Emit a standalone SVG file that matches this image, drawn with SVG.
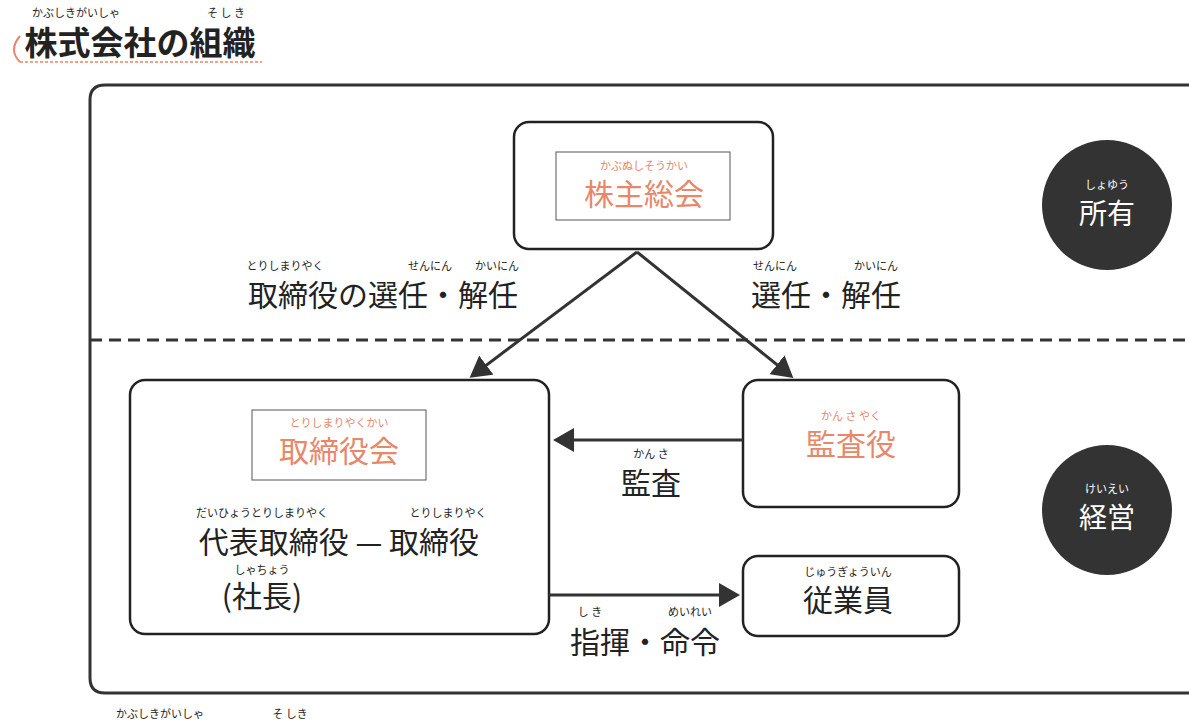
<svg xmlns="http://www.w3.org/2000/svg" width="1189" height="726" viewBox="0 0 1189 726">
<style>
text{font-family:"Noto Sans CJK JP","Noto Sans",sans-serif;fill:#222;text-anchor:middle}
.rb{font-size:11px}
.lb{font-size:30px}
.or{fill:#e8876a}
.bx{fill:#fff;stroke:#222;stroke-width:2.5}
.in{fill:none;stroke:#555;stroke-width:1}
.ln{stroke:#333;stroke-width:3;fill:none}
.w{fill:#fff;font-size:28px}
</style>
<defs><marker id="a" markerWidth="8" markerHeight="8" refX="6" refY="4" orient="auto" markerUnits="strokeWidth"><path d="M0,0L7,4L0,8z" fill="#333"/></marker></defs>
<rect width="1189" height="726" fill="#fff"/>
<g id="title">
<path d="M20,36 Q8,50 20,62" fill="none" stroke="#e8876a" stroke-width="2"/>
<line x1="20" y1="62" x2="262" y2="62" stroke="#e8876a" stroke-width="1.5" stroke-dasharray="3,2"/>
<text x="76" y="17" class="rb">かぶしきがいしゃ</text><text x="226" y="17" class="rb">そ し き</text>
<text x="140" y="55" style="font-size:33px;font-weight:bold;text-anchor:middle">株式会社の組織</text>
</g>
<g id="frame">
<path d="M1195,85H105Q90,85 90,100V678Q90,693 105,693H1195" class="ln" stroke-width="2.5"/>
<line x1="90" y1="340" x2="1189" y2="340" stroke="#333" stroke-width="3" stroke-dasharray="12,7"/>
</g>
<g id="soukai"><rect x="514" y="122" width="259" height="127" rx="15" class="bx"/><rect x="556" y="152" width="174" height="68" class="in"/>
<text x="644" y="170" class="rb or">かぶぬしそうかい</text><text x="644" y="205" class="lb or">株主総会</text></g>
<g id="shoyu"><circle cx="1107" cy="205" r="65" fill="#333"/><text x="1107" y="189" class="rb" style="fill:#fff">しょゆう</text><text x="1107" y="224" class="w">所有</text></g>
<g id="keiei"><circle cx="1107" cy="510" r="65" fill="#333"/><text x="1107" y="493" class="rb" style="fill:#fff">けいえい</text><text x="1107" y="528" class="w">経営</text></g>
<g id="torishimariyakukai"><rect x="130" y="380" width="419" height="254" rx="15" class="bx"/><rect x="252" y="410" width="174" height="70" class="in"/>
<text x="339" y="427" class="rb or">とりしまりやくかい</text><text x="339" y="462" class="lb or">取締役会</text>
<text x="262" y="517" class="rb">だいひょうとりしまりやく</text><text x="448" y="517" class="rb">とりしまりやく</text>
<text x="339" y="553" class="lb">代表取締役 — 取締役</text>
<text x="262" y="574" class="rb">しゃちょう</text><text x="262" y="607" class="lb">(社長)</text></g>
<g id="kansayaku"><rect x="743" y="380" width="216" height="127" rx="15" class="bx"/>
<text x="851" y="420" class="rb or">かん さ やく</text><text x="851" y="455" class="lb or">監査役</text></g>
<g id="jugyoin"><rect x="743" y="556" width="216" height="80" rx="15" class="bx"/>
<text x="848" y="576" class="rb">じゅうぎょういん</text><text x="848" y="611" class="lb">従業員</text></g>
<g id="connectors">
<line x1="637" y1="252" x2="472" y2="376" class="ln" marker-end="url(#a)"/>
<line x1="637" y1="252" x2="791" y2="376" class="ln" marker-end="url(#a)"/>
<line x1="743" y1="440" x2="556" y2="440" class="ln" marker-end="url(#a)"/>
<line x1="549" y1="595" x2="737" y2="595" class="ln" marker-end="url(#a)"/>
</g>
<g id="labels">
<text x="285" y="270" class="rb">とりしまりやく</text><text x="430" y="270" class="rb">せんにん</text><text x="497" y="270" class="rb">かいにん</text>
<text x="383" y="306" class="lb">取締役の選任・解任</text>
<text x="775" y="270" class="rb">せんにん</text><text x="876" y="270" class="rb">かいにん</text>
<text x="826" y="306" class="lb">選任・解任</text>
<text x="651" y="458" class="rb">かん さ</text><text x="651" y="494" class="lb">監査</text>
<text x="590" y="616" class="rb">し き</text><text x="690" y="616" class="rb">めいれい</text>
<text x="645" y="653" class="lb">指揮・命令</text>
<text x="160" y="718" class="rb">かぶしきがいしゃ</text><text x="290" y="718" class="rb">そ しき</text>
</g>
</svg>
